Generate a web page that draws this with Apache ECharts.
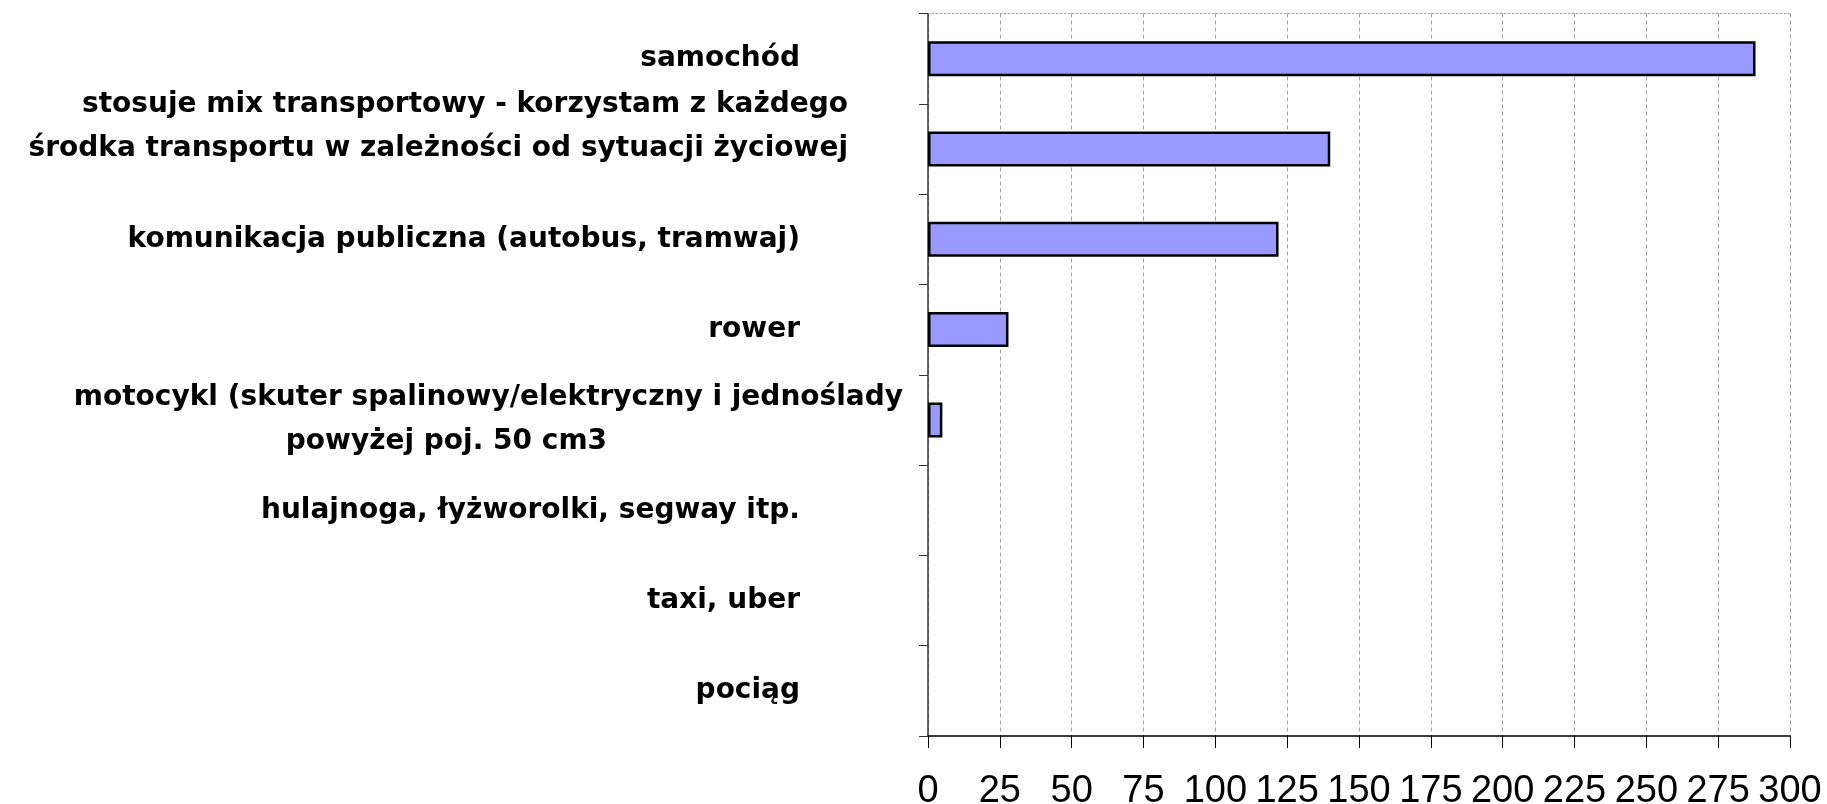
<!DOCTYPE html>
<html>
<head>
<meta charset="utf-8">
<script src="https://cdn.jsdelivr.net/npm/echarts@6/dist/echarts.min.js"></script>
<style>
html, body { margin: 0; padding: 0; background: #ffffff; }
#chart { width: 1827px; height: 804px; }
</style>
</head>
<body>
<div id="chart"></div>
<script>
// ---- data ----
const categories = [
  'samochód',
  'stosuje mix transportowy - korzystam z każdego\nśrodka transportu w zależności od sytuacji życiowej',
  'komunikacja publiczna (autobus, tramwaj)',
  'rower',
  'motocykl (skuter spalinowy/elektryczny i jednoślady\npowyżej poj. 50 cm3',
  'hulajnoga, łyżworolki, segway itp.',
  'taxi, uber',
  'pociąg'
];
const values = [288, 140, 122, 28, 5, 0, 0, 0];
const xMin = 0;
const xMax = 300;
const xStep = 25;

// ---- chart ----
const labelFont = { fontFamily: "'DejaVu Sans', sans-serif", fontWeight: 'bold', fontSize: 28, lineHeight: 44, color: '#000' };
const barData = values.map(function (v) {
  return v === 0 ? { value: v, itemStyle: { borderWidth: 0 } } : v;
});
const chart = echarts.init(document.getElementById('chart'), null, { renderer: 'canvas' });
chart.setOption({
  animation: false,
  backgroundColor: '#ffffff',
  grid: { left: 928, right: 37, top: 13.5, bottom: 68, containLabel: false, outerBoundsMode: 'none' },
  xAxis: [{
    type: 'value',
    position: 'bottom',
    min: xMin, max: xMax, interval: xStep,
    axisLine: { show: true, lineStyle: { color: '#000', width: 1.5 } },
    axisTick: { show: true, length: 12, lineStyle: { color: '#000', width: 1 } },
    axisLabel: {
      show: true, margin: 56, verticalAlign: 'middle',
      fontFamily: "'Liberation Sans Narrow', 'Arial Narrow', 'Liberation Sans', sans-serif",
      fontSize: 38, color: '#000'
    },
    splitLine: { show: true, lineStyle: { color: '#a0a0a0', type: [4, 3], width: 1 } }
  }, {
    type: 'value',
    position: 'top',
    min: xMin, max: xMax, interval: xStep,
    axisLine: { show: true, lineStyle: { color: '#a0a0a0', type: [2, 2], width: 1 } },
    axisTick: { show: false },
    axisLabel: { show: false },
    splitLine: { show: false }
  }],
  yAxis: {
    type: 'category',
    inverse: true,
    data: categories,
    axisLine: { show: true, lineStyle: { color: '#333', width: 1.5 } },
    axisTick: { show: true, length: 9, lineStyle: { color: '#333', width: 1 } },
    splitLine: { show: false },
    axisLabel: {
      show: true,
      interval: 0,
      margin: 25,
      align: 'right',
      fontFamily: labelFont.fontFamily, fontWeight: 'bold', fontSize: 28, lineHeight: 44, color: '#000',
      formatter: function (v, i) {
        const lines = v.split('\n');
        if (lines.length === 1) return '{s|' + v + '}';
        if (i === 1) return '{a|' + lines[0] + '}\n{a|' + lines[1] + '}\n{a| }';
        return '{c|' + lines[0] + '}\n{d|' + lines[1] + '}';
      },
      rich: {
        s: Object.assign({ padding: [0, 103, 0, 0] }, labelFont),
        a: Object.assign({ align: 'right', padding: [0, 55, 0, 0] }, labelFont),
        c: Object.assign({ align: 'center', padding: [0, 0, 0, 0] }, labelFont),
        d: Object.assign({ align: 'center', padding: [0, 84, 0, 0] }, labelFont)
      }
    }
  },
  series: [{
    type: 'bar',
    xAxisIndex: 0,
    data: barData,
    barWidth: 35,
    itemStyle: { color: '#9999FF', borderColor: '#000', borderWidth: 2.5 },
    emphasis: { disabled: true }
  }]
});
</script>
</body>
</html>
